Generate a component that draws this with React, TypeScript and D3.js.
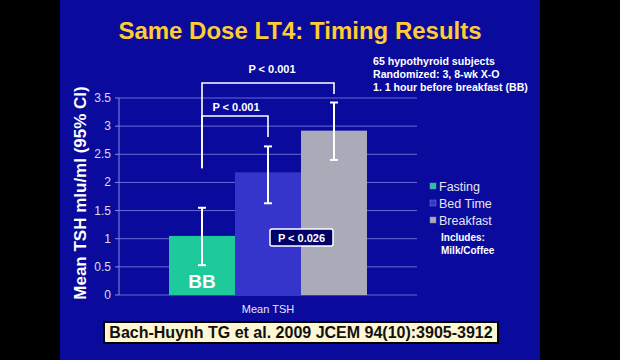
import React from "react";
import * as d3 from "d3";

const categories = ["Mean TSH"];
const series = ["Fasting", "Bed Time", "Breakfast"];
const means = [1.05, 2.18, 2.92];
const ciLow = [0.53, 1.63, 2.4];
const ciHigh = [1.55, 2.64, 3.42];
const yTicks = [0, 0.5, 1, 1.5, 2, 2.5, 3, 3.5];
const colors = ["#1ec99b", "#3535cc", "#aaaab8"];
const infoLines = ["65 hypothyroid subjects", "Randomized: 3, 8-wk X-O", "1. 1 hour before breakfast (BB)"];

export default function App() {
  const W = 620, H = 360;
  const x0 = d3.scaleBand().domain(categories).range([119, 417]).paddingOuter(0.2525).paddingInner(0);
  const x1 = d3.scaleBand().domain(series).range([x0(categories[0])!, x0(categories[0])! + x0.bandwidth()]).padding(0);
  const y = d3.scaleLinear().domain([0, 3.5]).range([295, 98]);
  const cx = (i: number) => x1(series[i])! + x1.bandwidth() / 2;
  const bg = "#0a0a9c";
  const font = "'Liberation Sans', Arial, sans-serif";
  return (
    <svg width={W} height={H} style={{ position: "absolute", left: 0, top: 0 }} fontFamily={font}>
      <rect x={0} y={0} width={W} height={H} fill="#000" />
      <rect x={60} y={0} width={480} height={H} fill={bg} />
      <text x={300} y={39} textAnchor="middle" fill="#ffcc33" fontSize={24} fontWeight="bold">Same Dose LT4: Timing Results</text>
      {infoLines.map((t, i) => (
        <text key={t} x={373} y={65 + i * 13} fill="#fff" fontSize={10.6} fontWeight="bold">{t}</text>
      ))}
      {yTicks.map((t) => (
        <g key={t}>
          <line x1={119} x2={417} y1={y(t)} y2={y(t)} stroke="#6a6ad6" strokeWidth={1} />
          <line x1={115} x2={119} y1={y(t)} y2={y(t)} stroke="#8a8ae0" strokeWidth={1} />
          <text x={111} y={y(t) + 4} textAnchor="end" fill="#dcdcf0" fontSize={12}>{t}</text>
        </g>
      ))}
      <line x1={119} x2={119} y1={y(0)} y2={y(3.5)} stroke="#8a8ae0" strokeWidth={1} />
      {series.map((s, i) => (
        <rect key={s} x={x1(s)!} y={y(means[i])} width={x1.bandwidth()} height={y(0) - y(means[i])} fill={colors[i]} />
      ))}
      {series.map((s, i) => (
        <g key={s + "e"} stroke="#fff" strokeWidth={2}>
          <line x1={cx(i)} x2={cx(i)} y1={y(ciLow[i])} y2={y(ciHigh[i])} />
          <line x1={cx(i) - 4} x2={cx(i) + 4} y1={y(ciLow[i])} y2={y(ciLow[i])} />
          <line x1={cx(i) - 4} x2={cx(i) + 4} y1={y(ciHigh[i])} y2={y(ciHigh[i])} />
        </g>
      ))}
      <text x={cx(0)} y={288} textAnchor="middle" fill="#fff" fontSize={19} fontWeight="bold">BB</text>
      <path d={`M${cx(0)},${y(2.25)} V83 H${cx(2)} V94`} fill="none" stroke="#fff" strokeWidth={1.6} />
      <path d={`M${cx(0)},${y(2.25)} V116 H${cx(1)} V137`} fill="none" stroke="#fff" strokeWidth={1.6} />
      <text x={272} y={73} textAnchor="middle" fill="#fff" fontSize={11} fontWeight="bold">P &lt; 0.001</text>
      <text x={236} y={111} textAnchor="middle" fill="#fff" fontSize={11} fontWeight="bold">P &lt; 0.001</text>
      <rect x={270} y={229} width={63} height={17} rx={2} fill="#000066" stroke="#fff" strokeWidth={1.5} />
      <text x={301.5} y={242} textAnchor="middle" fill="#fff" fontSize={11} fontWeight="bold">P &lt; 0.026</text>
      <text x={x0(categories[0])! + x0.bandwidth() / 2} y={313} textAnchor="middle" fill="#e6e6f5" fontSize={11}>{categories[0]}</text>
      <text transform={`translate(86,193) rotate(-90)`} textAnchor="middle" fill="#fff" fontSize={17} fontWeight="bold">Mean TSH mIu/ml (95% CI)</text>
      {series.map((s, i) => (
        <g key={s + "l"}>
          <rect x={430} y={183 + i * 17} width={6} height={6} fill={colors[i]} stroke="#8080c0" strokeWidth={0.5} />
          <text x={439} y={191 + i * 17} fill="#e6e6f5" fontSize={12.5}>{s}</text>
        </g>
      ))}
      <text x={441} y={241} fill="#fff" fontSize={10} fontWeight="bold">Includes:</text>
      <text x={441} y={254} fill="#fff" fontSize={10} fontWeight="bold">Milk/Coffee</text>
      <rect x={104} y={322} width={394} height={21} fill="#fff6d2" stroke="#000" strokeWidth={2} />
      <text x={301} y={338} textAnchor="middle" fill="#111" fontSize={16} fontWeight="bold">Bach-Huynh TG et al. 2009 JCEM 94(10):3905-3912</text>
    </svg>
  );
}
